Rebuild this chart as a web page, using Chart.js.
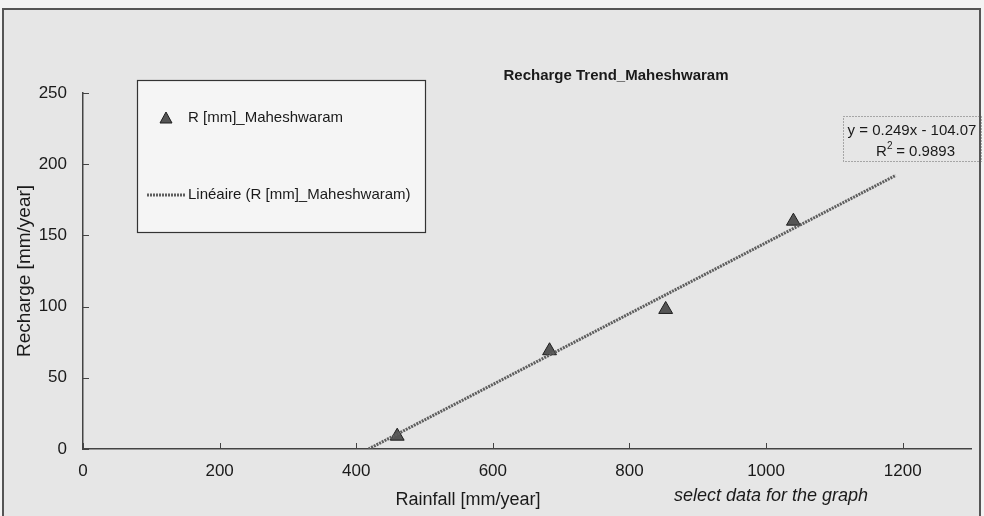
<!DOCTYPE html>
<html>
<head>
<meta charset="utf-8">
<script src="https://cdn.jsdelivr.net/npm/chart.js@4/dist/chart.umd.min.js"></script>
<style>
  html, body { margin: 0; padding: 0; background: #f4f4f4; }
  #wrap { width: 984px; height: 516px; }
</style>
</head>
<body>
<div id="wrap"><canvas id="chart" width="984" height="516"></canvas></div>
<script>
// data
const rainfall = [460, 683, 853, 1040];
const recharge = [9, 69, 98, 160];
// trendline ends, y = 0.249x - 104.07
const trendX = [418, 1190];
const trendY = [0, 192.2];
const xTicks = [0, 200, 400, 600, 800, 1000, 1200];
const yTicks = [0, 50, 100, 150, 200, 250];

const FONT = "'Liberation Sans', Arial, sans-serif";
const TXT = '#1a1a1a';

const points = rainfall.map((x, i) => ({ x: x, y: recharge[i] }));
const trend = trendX.map((x, i) => ({ x: x, y: trendY[i] }));

// background, frame, inner ticks, legend box, labels
const decor = {
    id: 'decor',
    beforeDraw(chart) {
        const ctx = chart.ctx;
        ctx.save();
        ctx.fillStyle = '#f3f3f3';
        ctx.fillRect(0, 0, chart.width, chart.height);
        ctx.fillStyle = '#e6e6e6';
        ctx.fillRect(3, 9, 977, chart.height - 9);
        ctx.strokeStyle = '#555';
        ctx.lineWidth = 2;
        ctx.strokeRect(3, 9, 977, chart.height + 10);
        ctx.restore();
    },
    afterDraw(chart) {
        const ctx = chart.ctx;
        const a = chart.chartArea;
        const xs = chart.scales.x, ys = chart.scales.y;
        ctx.save();

        // tick marks pointing into the plot
        ctx.strokeStyle = '#444';
        ctx.lineWidth = 1;
        ctx.beginPath();
        xs.ticks.forEach((t, i) => {
            const px = Math.round(xs.getPixelForTick(i)) + 0.5;
            ctx.moveTo(px, a.bottom);
            ctx.lineTo(px, a.bottom - 6);
        });
        ys.ticks.forEach((t, i) => {
            const py = Math.round(ys.getPixelForTick(i)) + 0.5;
            ctx.moveTo(a.left, py);
            ctx.lineTo(a.left + 6, py);
        });
        ctx.stroke();

        // chart title
        ctx.fillStyle = TXT;
        ctx.font = 'bold 15px ' + FONT;
        ctx.textAlign = 'center';
        ctx.textBaseline = 'middle';
        ctx.fillText('Recharge Trend_Maheshwaram', 616, 76);

        // x axis title and note
        ctx.font = '18px ' + FONT;
        ctx.fillText('Rainfall [mm/year]', 468, 500);
        ctx.font = 'italic 18px ' + FONT;
        ctx.textAlign = 'left';
        ctx.fillText('select data for the graph', 674, 496);

        // legend box
        const lx = 137, ly = 80, lw = 288, lh = 152;
        ctx.fillStyle = '#f5f5f5';
        ctx.fillRect(lx, ly, lw, lh);
        ctx.strokeStyle = '#333';
        ctx.lineWidth = 1.2;
        ctx.strokeRect(lx + 0.5, ly + 0.5, lw, lh);

        const dsPts = chart.data.datasets[1];
        const dsTrend = chart.data.datasets[0];
        ctx.fillStyle = dsPts.backgroundColor;
        ctx.strokeStyle = dsPts.borderColor;
        ctx.lineWidth = 1;
        ctx.beginPath();
        ctx.moveTo(166, 112);
        ctx.lineTo(172, 123);
        ctx.lineTo(160, 123);
        ctx.closePath();
        ctx.fill();
        ctx.stroke();

        ctx.strokeStyle = dsTrend.borderColor;
        ctx.lineWidth = 3;
        ctx.setLineDash(dsTrend.borderDash);
        ctx.beginPath();
        ctx.moveTo(147, 195);
        ctx.lineTo(186, 195);
        ctx.stroke();
        ctx.setLineDash([]);

        ctx.fillStyle = TXT;
        ctx.font = '15px ' + FONT;
        ctx.textAlign = 'left';
        ctx.fillText(dsPts.label, 188, 118);
        ctx.fillText(dsTrend.label, 188, 195);

        // equation box
        ctx.strokeStyle = '#666';
        ctx.lineWidth = 1;
        ctx.setLineDash([1, 2]);
        ctx.strokeRect(843.5, 116.5, 138, 45);
        ctx.setLineDash([]);
        ctx.fillStyle = TXT;
        ctx.font = '15px ' + FONT;
        ctx.textAlign = 'center';
        ctx.fillText('y = 0.249x - 104.07', 912, 131);
        ctx.textAlign = 'left';
        ctx.fillText('R', 876, 152);
        ctx.font = '10px ' + FONT;
        ctx.fillText('2', 887, 146);
        ctx.font = '15px ' + FONT;
        ctx.fillText(' = 0.9893', 892, 152);

        ctx.restore();
    }
};

new Chart(document.getElementById('chart'), {
    type: 'scatter',
    data: {
        datasets: [{
            type: 'line',
            label: 'Linéaire (R [mm]_Maheshwaram)',
            data: trend,
            showLine: true,
            borderColor: '#5e5e5e',
            borderWidth: 3,
            borderDash: [2, 1],
            pointRadius: 0,
            fill: false
        }, {
            label: 'R [mm]_Maheshwaram',
            data: points,
            pointStyle: 'triangle',
            pointRadius: 8,
            backgroundColor: '#555555',
            borderColor: '#1e1e1e',
            borderWidth: 1
        }]
    },
    options: {
        responsive: false,
        animation: false,
        layout: {
            padding: { left: 0, top: 93, right: 13, bottom: 0 }
        },
        plugins: {
            legend: { display: false },
            tooltip: { enabled: false }
        },
        scales: {
            x: {
                type: 'linear',
                min: 0,
                max: 1300,
                afterBuildTicks: (scale) => { scale.ticks = xTicks.map(v => ({ value: v })); },
                afterFit: (scale) => { scale.height = 67; },
                grid: { display: false, drawTicks: false },
                border: { display: true, color: '#444', width: 1.5 },
                ticks: {
                    color: TXT,
                    font: { family: FONT, size: 17 },
                    padding: 12,
                    maxRotation: 0,
                    callback: (v) => String(v)
                }
            },
            y: {
                min: 0,
                max: 250,
                afterBuildTicks: (scale) => { scale.ticks = yTicks.map(v => ({ value: v })); },
                afterFit: (scale) => { scale.width = 83; },
                grid: { display: false, drawTicks: false },
                border: { display: true, color: '#444', width: 1.5 },
                ticks: {
                    color: TXT,
                    font: { family: FONT, size: 17 },
                    padding: 16,
                    callback: (v) => String(v)
                },
                title: {
                    display: true,
                    text: 'Recharge [mm/year]',
                    color: TXT,
                    font: { family: FONT, size: 19 },
                    padding: { top: 13, bottom: 0 }
                }
            }
        }
    },
    plugins: [decor]
});
</script>
</body>
</html>
